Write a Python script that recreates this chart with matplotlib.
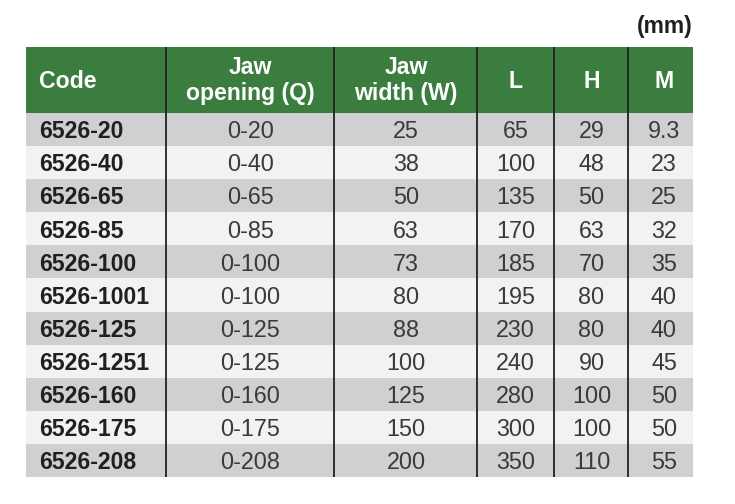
import matplotlib
matplotlib.use("Agg")
import matplotlib.pyplot as plt
from matplotlib.patches import Rectangle

plt.rcParams['font.family'] = ['Liberation Sans', 'DejaVu Sans']

# table values
headers = ["Code", "Jaw\nopening (Q)", "Jaw\nwidth (W)", "L", "H", "M"]
codes = ["6526-20", "6526-40", "6526-65", "6526-85", "6526-100", "6526-1001",
         "6526-125", "6526-1251", "6526-160", "6526-175", "6526-208"]
jaw_opening = ["0-20", "0-40", "0-65", "0-85", "0-100", "0-100",
               "0-125", "0-125", "0-160", "0-175", "0-208"]
jaw_width = ["25", "38", "50", "63", "73", "80", "88", "100", "125", "150", "200"]
l_vals = ["65", "100", "135", "170", "185", "195", "230", "240", "280", "300", "350"]
h_vals = ["29", "48", "50", "63", "70", "80", "80", "90", "100", "100", "110"]
m_vals = ["9.3", "23", "25", "32", "35", "40", "40", "45", "50", "50", "55"]
unit = "(mm)"

# layout in image pixels
left, right = 26, 693
top, head_bottom, bottom = 47, 113, 477
col_edges = [left, 166, 334.5, 477.5, 554, 628.5, right]
col_centers = [0, 250.5, 406, 515.5, 591.5, 664]
row_h = (bottom - head_bottom) / len(codes)

green = "#3a7d3e"
dark_row = "#cfd0d2"
light_row = "#f1f2f4"
line_col = "#222222"
text_col = "#3a3a3c"

fig = plt.figure(figsize=(7.35, 5.04), dpi=100)
ax = fig.add_axes([0, 0, 1, 1])
ax.set_xlim(0, 735)
ax.set_ylim(504, 0)
ax.axis("off")

# header band
ax.add_patch(Rectangle((left, top), right - left, head_bottom - top, color=green, lw=0))
for i, h in enumerate(headers):
    if i == 0:
        ax.text(39, 81.5, h, color="white", fontsize=16.6, fontweight="bold", ha="left", va="center")
    elif "\n" in h:
        ax.text(col_centers[i], 80.5, h, color="white", fontsize=16.6, fontweight="bold",
                ha="center", va="center", linespacing=1.17)
    else:
        ax.text(col_centers[i], 81.5, h, color="white", fontsize=16.6, fontweight="bold",
                ha="center", va="center")

# rows
columns = [jaw_opening, jaw_width, l_vals, h_vals, m_vals]
for r, code in enumerate(codes):
    y0 = head_bottom + r * row_h
    ax.add_patch(Rectangle((left, y0), right - left, row_h,
                           color=dark_row if r % 2 == 0 else light_row, lw=0))
    yc = y0 + row_h / 2
    ax.text(39, yc + 2.2, code, color="#231f20", fontsize=16.6, fontweight="bold", ha="left", va="center")
    for c, vals in enumerate(columns):
        ax.text(col_centers[c + 1], yc + 2.2, vals[r], color=text_col, fontsize=16.8, ha="center", va="center")

# column separators
for x in col_edges[1:-1]:
    ax.plot([x, x], [top, bottom], color=line_col, lw=1.3, solid_capstyle="butt")

ax.text(693, 26, unit, color="#231f20", fontsize=16.5, fontweight="bold", ha="right", va="center")

fig.savefig("out.png", dpi=100)
